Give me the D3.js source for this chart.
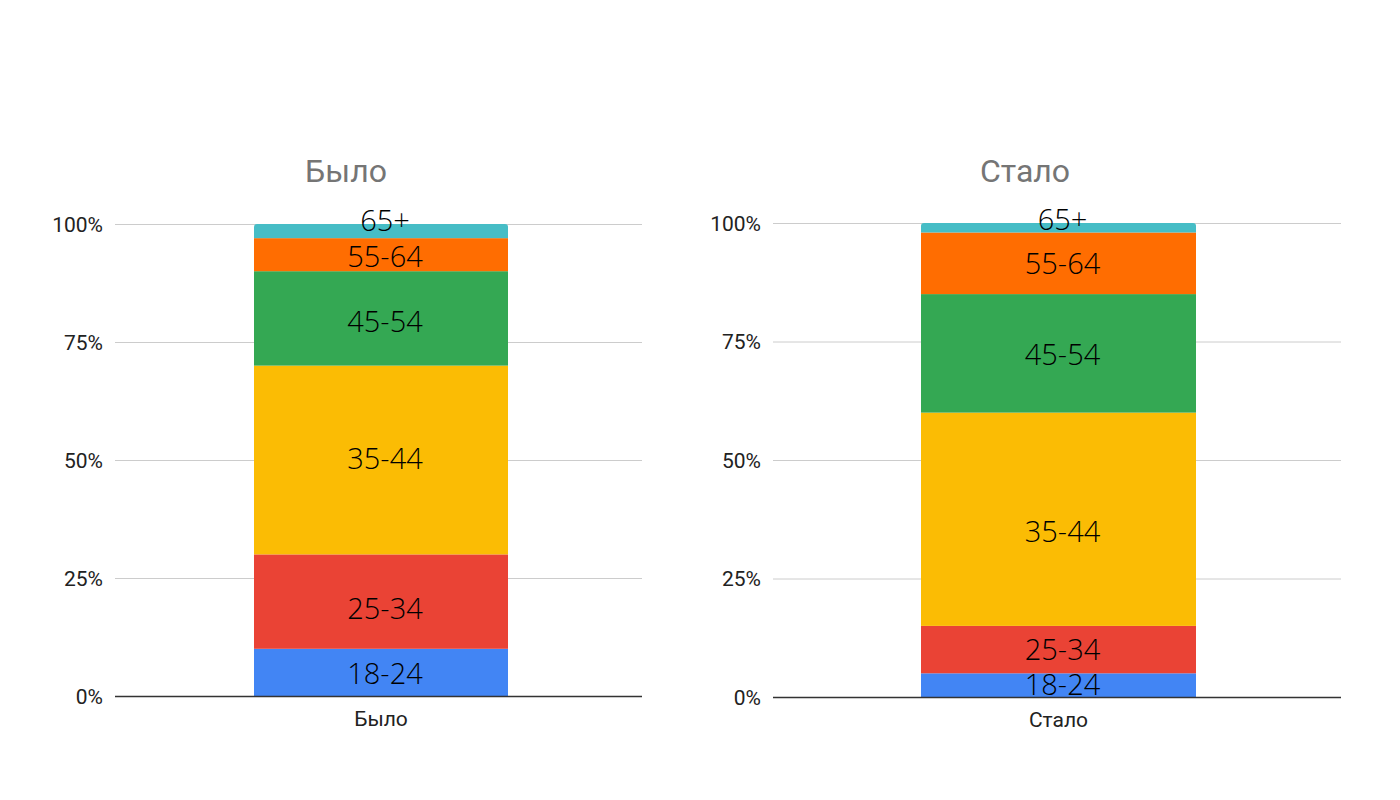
<!DOCTYPE html>
<html><head><meta charset="utf-8">
<script src="https://cdn.jsdelivr.net/npm/d3@7"></script>
<style>body{margin:0;background:#fff}svg{display:block}</style>
</head><body>
<svg id="c" width="1400" height="800"></svg>
<script>
const groups = ["18-24","25-34","35-44","45-54","55-64","65+"];
const colors = ["#4285F4","#EA4335","#FBBC04","#34A853","#FF6D01","#46BDC6"];
const valuesBefore = [10,20,40,20,7,3];
const valuesAfter = [5,10,45,25,13,2];
// where each overlaid label sits, in percent of the axis
const labelAtBefore = [4.7,18.6,50.4,79.4,93.2,100.8];
const labelAtAfter = [2.7,10.1,35.0,72.2,91.4,100.7];
const titles = ["Было","Стало"];
const yTicks = [0,0.25,0.5,0.75,1];

const svg = d3.select("#c");
const panels = [
  {title:titles[0], values:valuesBefore, labelAt:labelAtBefore, x0:115, x1:642, y0:696, y1:224, bar:[254,508], titleX:346},
  {title:titles[1], values:valuesAfter, labelAt:labelAtAfter, x0:773, x1:1341, y0:697, y1:223, bar:[921,1196], titleX:1025}
];
panels.forEach(p=>{
  const g = svg.append("g");
  const y = d3.scaleLinear().domain([0,1]).range([p.y0,p.y1]);
  const x = d3.scaleBand().domain([p.title]).range(p.bar).padding(0);
  g.selectAll(".grid").data(yTicks.slice(1)).join("line")
    .attr("x1",p.x0).attr("x2",p.x1).attr("y1",d=>y(d)+0.5).attr("y2",d=>y(d)+0.5)
    .attr("stroke","#cccccc").attr("stroke-width",1);
  g.selectAll(".yl").data(yTicks).join("text")
    .attr("x",p.x0-12).attr("y",d=>y(d)).attr("dy","0.36em").attr("text-anchor","end")
    .attr("font-family","Roboto, Arial, sans-serif").attr("font-size",21).attr("fill","#222")
    .text(d=>d3.format(".0%")(d));
  const total = d3.sum(p.values);
  let acc = 0;
  const segs = p.values.map((v,i)=>{const s={i,lo:acc/total,hi:(acc+v)/total}; acc+=v; return s;});
  const bx = x(p.title), bw = x.bandwidth();
  const clipId = "clip"+p.title;
  svg.append("defs").append("clipPath").attr("id",clipId).append("rect")
    .attr("x",bx).attr("y",y(1)).attr("width",bw).attr("height",p.y0-y(1)+10).attr("rx",3);
  g.append("g").attr("clip-path",`url(#${clipId})`).selectAll("rect").data(segs).join("rect")
    .attr("x",bx).attr("width",bw).attr("y",d=>y(d.hi)).attr("height",d=>y(d.lo)-y(d.hi))
    .attr("fill",d=>colors[d.i]);
  g.append("line").attr("x1",p.x0).attr("x2",p.x1).attr("y1",p.y0+0.5).attr("y2",p.y0+0.5)
    .attr("stroke","#333").attr("stroke-width",1.3);
  g.selectAll(".lab").data(segs).join("text")
    .attr("x",bx+bw/2+4)
    .attr("y",d=>y(p.labelAt[d.i]/100))
    .attr("dy","0.36em").attr("text-anchor","middle")
    .attr("font-family","'Open Sans Light','Open Sans', sans-serif").attr("font-weight",300).attr("font-size",29).attr("fill","#000")
    .text(d=>groups[d.i]);
  g.append("text").attr("x",bx+bw/2).attr("y",p.y0+22).attr("dy","0.36em").attr("text-anchor","middle")
    .attr("font-family","Roboto, Arial, sans-serif").attr("font-size",21).attr("fill","#222").text(p.title);
  g.append("text").attr("x",p.titleX).attr("y",170).attr("dy","0.36em").attr("text-anchor","middle")
    .attr("font-family","Roboto, Arial, sans-serif").attr("font-size",32).attr("fill","#757575").text(p.title);
});
</script>
</body></html>
